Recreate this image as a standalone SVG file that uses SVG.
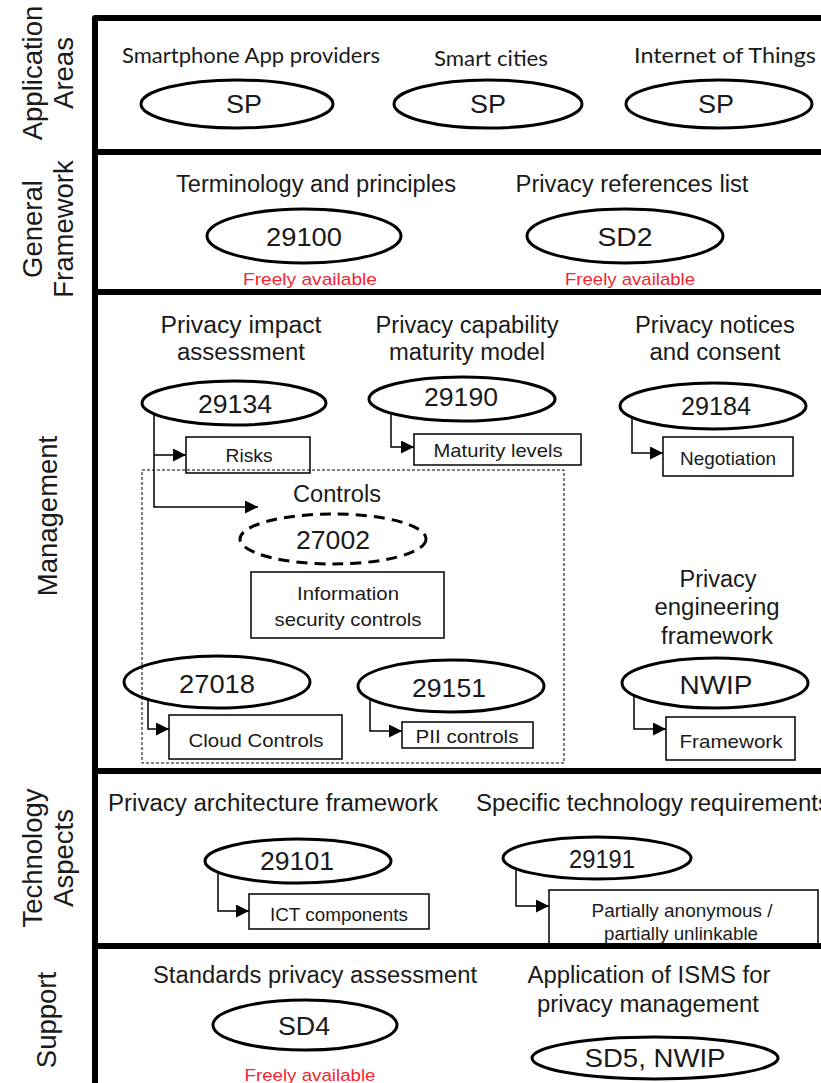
<svg xmlns="http://www.w3.org/2000/svg" width="821" height="1083" viewBox="0 0 821 1083">
<defs>
<style>
text{font-family:"Liberation Sans",Arial,sans-serif;fill:#1a1a1a}
.side{font-size:27.5px;text-anchor:middle}
.hd{font-size:23px;text-anchor:middle}
.app{font-family:Lato,"Liberation Sans",sans-serif;font-size:21px;text-anchor:middle}
.num{font-size:26px;text-anchor:middle}
.bt{font-size:19px;text-anchor:middle}
.red{font-size:17px;fill:#f2262e;text-anchor:middle}
.ell{fill:none;stroke:#000;stroke-width:3}
.dash{stroke-dasharray:11 7}
.box{fill:none;stroke:#000;stroke-width:1.5}
.conn{fill:none;stroke:#000;stroke-width:1.5;marker-end:url(#arr)}
.frame{fill:none;stroke:#000;stroke-width:6;stroke-linejoin:round}
</style>
<marker id="arr" markerUnits="userSpaceOnUse" markerWidth="14" markerHeight="14" refX="13" refY="6.5" orient="auto"><path d="M0,0 L13,6.5 L0,13 z" fill="#000"/></marker>
</defs>
<rect width="821" height="1083" fill="#fff"/>

<g id="frame">
<path class="frame" d="M95,1083 V18 H821"/>
<path class="frame" d="M95,152 H821 M95,292 H821 M95,771 H821 M95,946 H821"/>
<rect x="142" y="470" width="422" height="293" fill="none" stroke="#000" stroke-width="1" stroke-dasharray="3 2"/>
</g>

<g id="side-labels">
<text class="side" transform="translate(42,73) rotate(-90)">Application</text>
<text class="side" transform="translate(73,73) rotate(-90)">Areas</text>
<text class="side" transform="translate(42,229) rotate(-90)">General</text>
<text class="side" transform="translate(73,229) rotate(-90)">Framework</text>
<text class="side" transform="translate(57,516) rotate(-90)">Management</text>
<text class="side" transform="translate(42,858) rotate(-90)">Technology</text>
<text class="side" transform="translate(73,858) rotate(-90)">Aspects</text>
<text class="side" transform="translate(56,1020) rotate(-90)">Support</text>
</g>

<g id="connectors">
<path class="conn" d="M154,414 V507 H258"/>
<path class="conn" d="M154,455 H186"/>
<path class="conn" d="M391,413 V447 H414"/>
<path class="conn" d="M632,417 V453 H663"/>
<path class="conn" d="M148,699 V729 H169"/>
<path class="conn" d="M370,699 V731 H402"/>
<path class="conn" d="M634,695 V729 H666"/>
<path class="conn" d="M218,872 V911 H249"/>
<path class="conn" d="M516,869 V906 H549"/>
</g>

<g id="sp-apps">
<text class="app" x="251" y="63" textLength="258" lengthAdjust="spacingAndGlyphs">Smartphone App providers</text>
<ellipse class="ell" cx="237" cy="104" rx="96" ry="24"/>
<text class="num" x="244" y="113" textLength="36" lengthAdjust="spacingAndGlyphs">SP</text>
</g>
<g id="sp-cities">
<text class="app" x="491" y="66" textLength="114" lengthAdjust="spacingAndGlyphs">Smart cities</text>
<ellipse class="ell" cx="488" cy="104" rx="94" ry="24"/>
<text class="num" x="488" y="113" textLength="36" lengthAdjust="spacingAndGlyphs">SP</text>
</g>
<g id="sp-iot">
<text class="app" x="725" y="63" textLength="182" lengthAdjust="spacingAndGlyphs">Internet of Things</text>
<ellipse class="ell" cx="719" cy="104" rx="93" ry="24"/>
<text class="num" x="716" y="113" textLength="36" lengthAdjust="spacingAndGlyphs">SP</text>
</g>

<g id="n29100">
<text class="hd" x="316" y="192" textLength="280" lengthAdjust="spacingAndGlyphs">Terminology and principles</text>
<ellipse class="ell" cx="304" cy="236" rx="97" ry="27"/>
<text class="num" x="304" y="246" textLength="76" lengthAdjust="spacingAndGlyphs">29100</text>
<text class="red" x="310" y="285" textLength="134" lengthAdjust="spacingAndGlyphs">Freely available</text>
</g>
<g id="nSD2">
<text class="hd" x="632" y="192" textLength="233" lengthAdjust="spacingAndGlyphs">Privacy references list</text>
<ellipse class="ell" cx="625" cy="236" rx="98" ry="27"/>
<text class="num" x="625" y="246" textLength="55" lengthAdjust="spacingAndGlyphs">SD2</text>
<text class="red" x="630" y="285" textLength="130" lengthAdjust="spacingAndGlyphs">Freely available</text>
</g>

<g id="n29134">
<text class="hd" x="241" y="333" textLength="161" lengthAdjust="spacingAndGlyphs">Privacy impact</text>
<text class="hd" x="241" y="360" textLength="128" lengthAdjust="spacingAndGlyphs">assessment</text>
<ellipse class="ell" cx="234" cy="403" rx="92" ry="22"/>
<text class="num" x="235" y="413" textLength="74" lengthAdjust="spacingAndGlyphs">29134</text>
</g>
<g id="risks">
<rect class="box" x="186" y="437" width="124" height="36"/>
<text class="bt" x="249" y="462" textLength="47" lengthAdjust="spacingAndGlyphs">Risks</text>
</g>
<g id="n29190">
<text class="hd" x="467" y="333" textLength="183" lengthAdjust="spacingAndGlyphs">Privacy capability</text>
<text class="hd" x="467" y="360" textLength="156" lengthAdjust="spacingAndGlyphs">maturity model</text>
<ellipse class="ell" cx="462" cy="399" rx="93" ry="22"/>
<text class="num" x="461" y="406" textLength="74" lengthAdjust="spacingAndGlyphs">29190</text>
</g>
<g id="maturity">
<rect class="box" x="414" y="434" width="167" height="31"/>
<text class="bt" x="498" y="457" textLength="129" lengthAdjust="spacingAndGlyphs">Maturity levels</text>
</g>
<g id="n29184">
<text class="hd" x="715" y="333" textLength="160" lengthAdjust="spacingAndGlyphs">Privacy notices</text>
<text class="hd" x="715" y="360" textLength="131" lengthAdjust="spacingAndGlyphs">and consent</text>
<ellipse class="ell" cx="713" cy="406" rx="93" ry="23"/>
<text class="num" x="716" y="415" textLength="70" lengthAdjust="spacingAndGlyphs">29184</text>
</g>
<g id="negotiation">
<rect class="box" x="663" y="437" width="130" height="39"/>
<text class="bt" x="728" y="465" textLength="96" lengthAdjust="spacingAndGlyphs">Negotiation</text>
</g>

<g id="n27002">
<text class="hd" x="337" y="502" textLength="88" lengthAdjust="spacingAndGlyphs">Controls</text>
<ellipse class="ell dash" cx="333" cy="539" rx="93" ry="25"/>
<text class="num" x="333" y="549" textLength="74" lengthAdjust="spacingAndGlyphs">27002</text>
</g>
<g id="infosec">
<rect class="box" x="251" y="572" width="193" height="66"/>
<text class="bt" x="348" y="600" textLength="102" lengthAdjust="spacingAndGlyphs">Information</text>
<text class="bt" x="348" y="626" textLength="147" lengthAdjust="spacingAndGlyphs">security controls</text>
</g>
<g id="n27018">
<ellipse class="ell" cx="217" cy="682" rx="93" ry="26"/>
<text class="num" x="217" y="693" textLength="76" lengthAdjust="spacingAndGlyphs">27018</text>
</g>
<g id="cloud">
<rect class="box" x="169" y="715" width="173" height="44"/>
<text class="bt" x="256" y="747" textLength="135" lengthAdjust="spacingAndGlyphs">Cloud Controls</text>
</g>
<g id="n29151">
<ellipse class="ell" cx="451" cy="686" rx="93" ry="26"/>
<text class="num" x="449" y="697" textLength="74" lengthAdjust="spacingAndGlyphs">29151</text>
</g>
<g id="pii">
<rect class="box" x="402" y="722" width="131" height="26"/>
<text class="bt" x="467" y="743" textLength="103" lengthAdjust="spacingAndGlyphs">PII controls</text>
</g>
<g id="nNWIP">
<text class="hd" x="718" y="587" textLength="77" lengthAdjust="spacingAndGlyphs">Privacy</text>
<text class="hd" x="717" y="615" textLength="125" lengthAdjust="spacingAndGlyphs">engineering</text>
<text class="hd" x="717" y="644" textLength="112" lengthAdjust="spacingAndGlyphs">framework</text>
<ellipse class="ell" cx="715" cy="683" rx="93" ry="25"/>
<text class="num" x="716" y="694" textLength="73" lengthAdjust="spacingAndGlyphs">NWIP</text>
</g>
<g id="framework">
<rect class="box" x="666" y="717" width="129" height="43"/>
<text class="bt" x="731" y="748" textLength="103" lengthAdjust="spacingAndGlyphs">Framework</text>
</g>

<g id="n29101">
<text class="hd" x="273" y="811" textLength="330" lengthAdjust="spacingAndGlyphs">Privacy architecture framework</text>
<ellipse class="ell" cx="298" cy="861" rx="93" ry="22"/>
<text class="num" x="297" y="870" textLength="74" lengthAdjust="spacingAndGlyphs">29101</text>
</g>
<g id="ict">
<rect class="box" x="249" y="894" width="180" height="35"/>
<text class="bt" x="339" y="921" textLength="138" lengthAdjust="spacingAndGlyphs">ICT components</text>
</g>
<g id="n29191">
<text class="hd" x="476" y="811" textLength="354" lengthAdjust="spacingAndGlyphs" style="text-anchor:start">Specific technology requirements</text>
<ellipse class="ell" cx="597" cy="858" rx="94" ry="21"/>
<text class="num" x="602" y="868" textLength="66" lengthAdjust="spacingAndGlyphs">29191</text>
</g>
<g id="partially">
<rect class="box" x="549" y="890" width="269" height="56"/>
<text class="bt" x="682" y="917" textLength="181" lengthAdjust="spacingAndGlyphs">Partially anonymous /</text>
<text class="bt" x="681" y="940" textLength="154" lengthAdjust="spacingAndGlyphs">partially unlinkable</text>
</g>

<g id="nSD4">
<text class="hd" x="315" y="983" textLength="324" lengthAdjust="spacingAndGlyphs">Standards privacy assessment</text>
<ellipse class="ell" cx="305" cy="1025" rx="92" ry="25"/>
<text class="num" x="304" y="1035" textLength="52" lengthAdjust="spacingAndGlyphs">SD4</text>
<text class="red" x="310" y="1081" textLength="131" lengthAdjust="spacingAndGlyphs">Freely available</text>
</g>
<g id="nSD5">
<text class="hd" x="649" y="983" textLength="243" lengthAdjust="spacingAndGlyphs">Application of ISMS for</text>
<text class="hd" x="648" y="1012" textLength="222" lengthAdjust="spacingAndGlyphs">privacy management</text>
<ellipse class="ell" cx="655" cy="1058" rx="123" ry="21"/>
<text class="num" x="655" y="1067" textLength="141" lengthAdjust="spacingAndGlyphs">SD5, NWIP</text>
</g>
</svg>
